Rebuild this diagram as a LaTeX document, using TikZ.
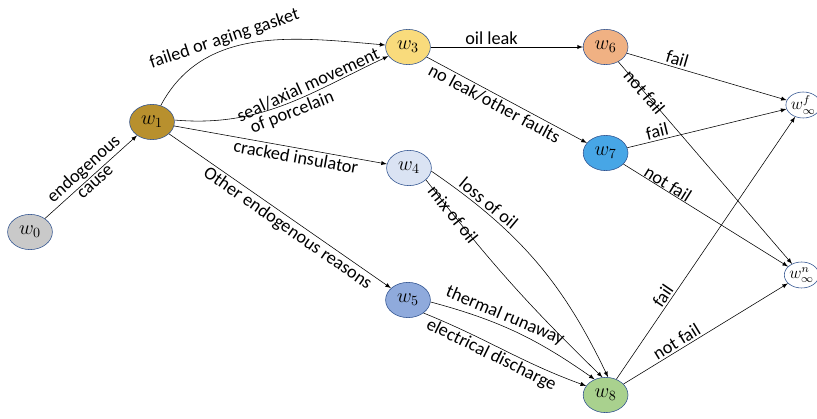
\documentclass[tikz,border=0pt]{standalone}
\usepackage{fontspec}
\setmainfont{Carlito}
\usetikzlibrary{shapes.geometric}

\definecolor{rim}{HTML}{2F528F}
\definecolor{cGray}{HTML}{C9C9C9}
\definecolor{cGold}{HTML}{B8902E}
\definecolor{cYellow}{HTML}{F9DB7C}
\definecolor{cPale}{HTML}{DAE3F3}
\definecolor{cSteel}{HTML}{8FAADC}
\definecolor{cOrange}{HTML}{F0B183}
\definecolor{cSky}{HTML}{47A6E6}
\definecolor{cGreen}{HTML}{A9D18E}

\begin{document}
\begin{tikzpicture}[
    >=latex,
    state/.style={ellipse, draw=rim, thin, minimum width=1.12cm, minimum height=0.88cm, inner sep=0pt, font=\Large},
    absorb/.style={ellipse, draw=rim, thin, fill=white, minimum width=0.85cm, minimum height=0.65cm, inner sep=0pt, font=\large},
    link/.style={->, thin},
    lab/.style={font=\fontsize{13}{15}\selectfont, sloped, inner sep=1.5pt}
  ]
  \useasboundingbox (0,0) rectangle (20.425,10.475);

  % states
  \node[state, fill=cGray]   (w0) at (0.75,4.675)    {$w_0$};
  \node[state, fill=cGold]   (w1) at (3.8,7.425)     {$w_1$};
  \node[state, fill=cYellow] (w3) at (10.2,9.3)      {$w_3$};
  \node[state, fill=cPale]   (w4) at (10.225,6.275)  {$w_4$};
  \node[state, fill=cSteel]  (w5) at (10.2,2.975)    {$w_5$};
  \node[state, fill=cOrange] (w6) at (15.14,9.3)     {$w_6$};
  \node[state, fill=cSky]    (w7) at (15.14,6.65)    {$w_7$};
  \node[state, fill=cGreen]  (w8) at (15.14,0.6)     {$w_8$};
  \node[absorb] (wf) at (20.08,7.85)  {$w_\infty^f$};
  \node[absorb] (wn) at (20.04,3.6)   {$w_\infty^n$};

  % causes
  \draw[link] (w0) -- (w1)
    node[lab, midway, above] {endogenous}
    node[lab, midway, below] {cause};
  \draw[link] (w1) to[out=62, in=175]
    node[lab, pos=0.38, above] {failed or aging gasket} (w3);
  \draw[link] (w1.5) to[out=-5, in=205]
    node[lab, pos=0.64, above] {seal/axial movement}
    node[lab, pos=0.52, below] {of porcelain} (w3);
  \draw[link] (w1) -- (w4) node[lab, pos=0.58, below] {cracked insulator};
  \draw[link] (w1) -- (w5) node[lab, pos=0.56, below] {Other endogenous reasons};

  % faults
  \draw[link] (w3) -- (w6) node[lab, pos=0.4, above] {oil leak};
  \draw[link] (w3) -- (w7) node[lab, pos=0.45, below] {no leak/other faults};
  \draw[link] (w4.-8) to[bend left=15] node[lab, pos=0.22, above] {loss of oil} (w8.82);
  \draw[link] (w4.-35) to[bend right=4] node[lab, pos=0.15] {mix of oil} (w8.100);
  \draw[link] (w5.-5) to[out=-15, in=145] node[lab, pos=0.4, above] {thermal runaway} (w8.125);
  \draw[link] (w5.-40) to[out=-22, in=160] node[lab, pos=0.44, below] {electrical discharge} (w8.155);

  % outcomes
  \draw[link] (w6) -- (wf) node[lab, pos=0.3, above] {fail};
  \draw[link] (w6) -- (wn) node[lab, pos=0.15] {not fail};
  \draw[link] (w7) -- (wf) node[lab, pos=0.2, above] {fail};
  \draw[link] (w7) -- (wn) node[lab, pos=0.25, above, inner sep=0pt] {not fail};
  \draw[link] (w8) -- (wf) node[lab, pos=0.3, above] {fail};
  \draw[link] (w8) -- (wn) node[lab, pos=0.35, above] {not fail};
\end{tikzpicture}
\end{document}
